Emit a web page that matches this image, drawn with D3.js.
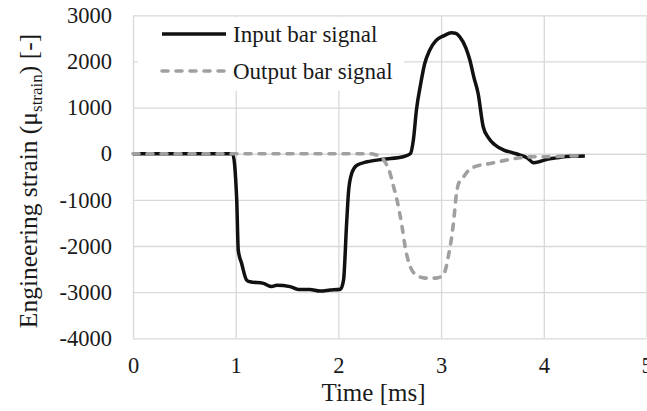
<!DOCTYPE html>
<html>
<head>
<meta charset="utf-8">
<script src="https://cdn.jsdelivr.net/npm/d3@7"></script>
<style>
  body { margin: 0; background: #fff; }
  svg { display: block; font-family: "Liberation Serif", "Times New Roman", serif; }
  .grid line { stroke: #d9d9d9; stroke-width: 1.3; }
</style>
</head>
<body>
<svg id="chart" width="647" height="411"></svg>
<script>
// Input bar signal (solid black)
var inputTime = [0, 0.5, 0.97, 1.01, 1.025, 1.058, 1.107, 1.14, 1.27, 1.35, 1.40, 1.53, 1.61, 1.72, 1.82, 1.92, 2.02,
    2.05, 2.08, 2.10, 2.13, 2.18, 2.28, 2.44, 2.63, 2.70, 2.73, 2.76, 2.80, 2.84, 2.89, 2.95, 3.03, 3.10, 3.14,
    3.18, 3.24, 3.28, 3.32, 3.36, 3.41, 3.46, 3.52, 3.61, 3.70, 3.77, 3.84, 3.90, 3.96, 4.03, 4.12, 4.22, 4.30, 4.40];
var inputStrain = [0, 0, 0, -1000, -2090, -2380, -2740, -2775, -2810, -2880, -2850, -2880, -2940, -2940, -2975, -2955, -2935,
    -2740, -1510, -790, -425, -250, -175, -120, -65, 0, 300, 950, 1500, 1950, 2250, 2450, 2560, 2620, 2610,
    2540, 2300, 2030, 1650, 1310, 585, 350, 200, 80, 20, -30, -90, -195, -170, -120, -90, -60, -55, -50];

// Output bar signal (dashed grey)
var outputTime = [0, 2.30, 2.36, 2.41, 2.46, 2.50, 2.53, 2.57, 2.62, 2.65, 2.70, 2.76, 2.83, 2.89, 2.96, 3.02, 3.05,
    3.07, 3.10, 3.12, 3.15, 3.17, 3.22, 3.27, 3.33, 3.48, 3.64, 3.77, 3.90, 4.06, 4.22, 4.35];
var outputStrain = [0, 0, -20, -65, -200, -400, -650, -1000, -1580, -2020, -2450, -2630, -2690, -2700, -2690, -2630, -2450,
    -2230, -1850, -1510, -860, -650, -500, -350, -280, -210, -137, -87, -65, -65, -50, -50];

var xTicks = [0, 1, 2, 3, 4, 5];
var yTicks = [-4000, -3000, -2000, -1000, 0, 1000, 2000, 3000];
var seriesNames = ['Input bar signal', 'Output bar signal'];

var serif = '"Liberation Serif", "Times New Roman", serif';
var svg = d3.select('#chart');
var plot = {left: 133, right: 646.5, top: 15.3, bottom: 338.3};

var x = d3.scaleLinear().domain([0, 5]).range([plot.left, plot.right]);
var y = d3.scaleLinear().domain([-4000, 3000]).range([plot.bottom, plot.top]);

// plain hyphen minus, like the original
var plainFormat = function(d) { return String(d); };

// gridlines + tick labels
var yAxis = svg.append('g')
    .attr('class', 'grid')
    .attr('transform', 'translate(' + plot.left + ',0)')
    .call(d3.axisLeft(y).tickValues(yTicks).tickSize(-(plot.right - plot.left)).tickPadding(21).tickFormat(plainFormat));

var xAxis = svg.append('g')
    .attr('class', 'grid')
    .attr('transform', 'translate(0,' + plot.bottom + ')')
    .call(d3.axisBottom(x).tickValues(xTicks).tickSize(-(plot.bottom - plot.top)).tickPadding(19).tickFormat(plainFormat));

[xAxis, yAxis].forEach(function(ax) {
    ax.select('.domain').remove();
    ax.attr('font-family', serif).attr('font-size', 22.5);
    ax.selectAll('text').attr('fill', '#1a1a1a');
});

var line = d3.line()
    .x(function(d) { return x(d[0]); })
    .y(function(d) { return y(d[1]); })
    .curve(d3.curveMonotoneX);

var inputData = inputTime.map(function(t, i) { return [t, inputStrain[i]]; });
var outputData = outputTime.map(function(t, i) { return [t, outputStrain[i]]; });

svg.append('path')
    .datum(inputData)
    .attr('d', line)
    .attr('fill', 'none')
    .attr('stroke', '#111')
    .attr('stroke-width', 3.5)
    .attr('stroke-linejoin', 'round');

svg.append('path')
    .datum(outputData)
    .attr('d', line)
    .attr('fill', 'none')
    .attr('stroke', '#a0a0a0')
    .attr('stroke-width', 3.6)
    .attr('stroke-linecap', 'round')
    .attr('stroke-dasharray', '6,8');

// legend
var legend = svg.append('g');
legend.append('rect')
    .attr('x', 138).attr('y', 17)
    .attr('width', 266).attr('height', 74)
    .attr('fill', '#fff');

var legendRows = [
    {name: seriesNames[0], y: 34, color: '#111', dash: null, cap: 'butt'},
    {name: seriesNames[1], y: 71, color: '#a0a0a0', dash: '6,8', cap: 'round'}
];
legendRows.forEach(function(r) {
    legend.append('line')
        .attr('x1', 162).attr('x2', 226)
        .attr('y1', r.y).attr('y2', r.y)
        .attr('stroke', r.color)
        .attr('stroke-width', 3.6)
        .attr('stroke-linecap', r.cap)
        .attr('stroke-dasharray', r.dash);
    legend.append('text')
        .attr('x', 233).attr('y', r.y + 7.5)
        .attr('font-size', 23)
        .attr('fill', '#1a1a1a')
        .text(r.name);
});

// axis titles
svg.append('text')
    .attr('x', 373.5).attr('y', 401)
    .attr('text-anchor', 'middle')
    .attr('font-size', 25)
    .attr('fill', '#1a1a1a')
    .text('Time [ms]');

var yTitle = svg.append('text')
    .attr('transform', 'translate(37,181) rotate(-90)')
    .attr('text-anchor', 'middle')
    .attr('font-size', 25.5)
    .attr('fill', '#1a1a1a');
yTitle.append('tspan').text('Engineering strain (\u03bc');
yTitle.append('tspan').attr('font-size', 17).attr('dy', 5).text('strain');
yTitle.append('tspan').attr('dy', -5).text(') [-]');
</script>
</body>
</html>
